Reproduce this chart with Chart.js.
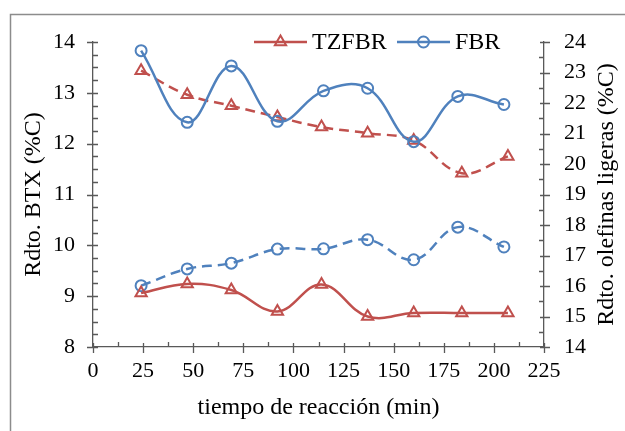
<!DOCTYPE html>
<html>
<head>
<meta charset="utf-8">
<script src="https://cdn.jsdelivr.net/npm/chart.js@4.4.1/dist/chart.umd.min.js"></script>
<style>
html,body{margin:0;padding:0;background:#fff;overflow:hidden}
#wrap{position:relative;width:625px;height:431px}
</style>
</head>
<body>
<div id="wrap"><canvas id="c" width="625" height="431"></canvas></div>
<script>
// ---- data ----
const timeFBR   = [24, 47, 69, 92, 115, 137, 160, 182, 205];
const timeTZFBR = [24, 47, 69, 92, 114, 137, 160, 184, 207];
const btxFBR    = [13.83, 12.42, 13.53, 12.44, 13.04, 13.09, 12.04, 12.93, 12.77];
const btxTZFBR  = [9.06, 9.24, 9.12, 8.70, 9.23, 8.60, 8.67, 8.67, 8.67];
const olefFBR   = [16.01, 16.56, 16.75, 17.21, 17.22, 17.52, 16.86, 17.93, 17.28];
const olefTZFBR = [23.06, 22.27, 21.91, 21.54, 21.21, 21.01, 20.77, 19.70, 20.25];
const seriesNames = ['TZFBR', 'FBR'];
const xTitle  = 'tiempo de reacción (min)';
const yTitle  = 'Rdto. BTX (%C)';
const y2Title = 'Rdto. olefinas ligeras (%C)';
const xRange  = [0, 225, 25];
const yRange  = [8, 14, 1];
const y2Range = [14, 24, 1];

// ---- styles ----
const RED = '#C0504D';
const BLUE = '#4F81BD';
const AXIS = '#595959';
const FONT = "'Liberation Serif', 'Times New Roman', serif";
const tickFont = {family: FONT, size: 22};
const titleFont = {family: FONT, size: 24};

const pairs = (xs, ys) => xs.map((x, i) => ({x: x, y: ys[i]}));

const borderPlugin = {
  id: 'outerBorder',
  beforeDraw(chart) {
    const ctx = chart.ctx;
    ctx.save();
    ctx.strokeStyle = '#8c8c8c';
    ctx.lineWidth = 1.5;
    ctx.strokeRect(10.5, 14.5, 1000, 1000);
    ctx.restore();
  }
};

const tickPlugin = {
  id: 'tickMarks',
  afterDraw(chart) {
    const ctx = chart.ctx;
    const sx = chart.scales.x, sy = chart.scales.y, sy2 = chart.scales.y2;
    const isInt = (v, s) => Math.abs(v / s - Math.round(v / s)) < 1e-6;
    ctx.save();
    ctx.strokeStyle = AXIS;
    ctx.lineWidth = 1.3;
    ctx.beginPath();
    for (let v = yRange[0]; v <= yRange[1] + 1e-9; v += 0.25) {
      const p = Math.round(sy.getPixelForValue(v)) + 0.5;
      const ax = sy.right;
      if (isInt(v, yRange[2])) { ctx.moveTo(ax - 6, p); ctx.lineTo(ax + 5, p); }
      else { ctx.moveTo(ax, p); ctx.lineTo(ax + 5, p); }
    }
    for (let v = y2Range[0]; v <= y2Range[1] + 1e-9; v += 0.5) {
      const p = Math.round(sy2.getPixelForValue(v)) + 0.5;
      const ax = sy2.left;
      if (isInt(v, y2Range[2])) { ctx.moveTo(ax - 4, p); ctx.lineTo(ax + 6, p); }
      else { ctx.moveTo(ax - 5, p); ctx.lineTo(ax, p); }
    }
    for (let v = xRange[0]; v <= xRange[1] + 1e-9; v += 12.5) {
      const p = Math.round(sx.getPixelForValue(v)) + 0.5;
      const ay = sx.top;
      if (isInt(v, xRange[2])) { ctx.moveTo(p, ay - 4); ctx.lineTo(p, ay + 6); }
      else { ctx.moveTo(p, ay - 5); ctx.lineTo(p, ay); }
    }
    ctx.stroke();
    ctx.restore();
  }
};

const extrasPlugin = {
  id: 'extras',
  afterDraw(chart) {
    const ctx = chart.ctx;
    const ca = chart.chartArea;
    ctx.save();
    ctx.fillStyle = '#000';
    ctx.font = "24px " + FONT;
    ctx.textAlign = 'center';
    ctx.textBaseline = 'middle';
    ctx.translate(607, (ca.top + ca.bottom) / 2);
    ctx.rotate(-Math.PI / 2);
    ctx.fillText(y2Title, 0, 0);
    ctx.restore();

    // legend: line + hollow marker + text
    const items = [
      {ds: chart.data.datasets[0], x0: 254, text: seriesNames[0]},
      {ds: chart.data.datasets[1], x0: 397, text: seriesNames[1]}
    ];
    const ly = 42;
    items.forEach(it => {
      const ds = it.ds;
      ctx.save();
      ctx.strokeStyle = ds.borderColor;
      ctx.lineWidth = ds.borderWidth;
      ctx.beginPath();
      ctx.moveTo(it.x0, ly);
      ctx.lineTo(it.x0 + 53, ly);
      ctx.stroke();
      ctx.restore();

      ctx.save();
      ctx.strokeStyle = ds.pointBorderColor;
      ctx.fillStyle = 'rgba(255,255,255,0)';
      ctx.lineWidth = ds.pointBorderWidth;
      Chart.helpers.drawPoint(ctx, {
        pointStyle: ds.pointStyle,
        radius: ds.pointRadius,
        borderWidth: ds.pointBorderWidth,
        rotation: 0
      }, it.x0 + 26.5, ly);
      ctx.restore();

      ctx.save();
      ctx.fillStyle = '#000';
      ctx.font = "24px " + FONT;
      ctx.textAlign = 'left';
      ctx.textBaseline = 'middle';
      ctx.fillText(it.text, it.x0 + 58, ly + 1);
      ctx.restore();
    });
  }
};

const common = {
  borderWidth: 2.5,
  tension: 0.4,
  pointBorderWidth: 2,
  pointBackgroundColor: 'rgba(0,0,0,0)',
  fill: false
};

new Chart(document.getElementById('c'), {
  type: 'line',
  data: {
    datasets: [
      Object.assign({}, common, {
        label: seriesNames[0], data: pairs(timeTZFBR, btxTZFBR), yAxisID: 'y',
        borderColor: RED, pointBorderColor: RED, pointStyle: 'triangle', pointRadius: 6.5
      }),
      Object.assign({}, common, {
        label: seriesNames[1], data: pairs(timeFBR, btxFBR), yAxisID: 'y',
        borderColor: BLUE, pointBorderColor: BLUE, pointStyle: 'circle', pointRadius: 5.5
      }),
      Object.assign({}, common, {
        label: seriesNames[0] + ' olefinas', data: pairs(timeTZFBR, olefTZFBR), yAxisID: 'y2',
        borderColor: RED, pointBorderColor: RED, pointStyle: 'triangle', pointRadius: 6.5,
        borderDash: [10, 6]
      }),
      Object.assign({}, common, {
        label: seriesNames[1] + ' olefinas', data: pairs(timeFBR, olefFBR), yAxisID: 'y2',
        borderColor: BLUE, pointBorderColor: BLUE, pointStyle: 'circle', pointRadius: 5.5,
        borderDash: [10, 6]
      })
    ]
  },
  options: {
    responsive: false,
    animation: false,
    devicePixelRatio: 1,
    layout: {padding: {top: 42, left: 0, right: 0, bottom: 0}},
    plugins: {legend: {display: false}, tooltip: {enabled: false}},
    scales: {
      x: {
        type: 'linear', position: 'bottom',
        min: xRange[0], max: xRange[1],
        ticks: {stepSize: xRange[2], padding: 11, font: tickFont, color: '#000', maxRotation: 0, autoSkip: false},
        grid: {display: false, drawTicks: false},
        border: {display: true, color: AXIS, width: 1.3},
        title: {display: true, text: xTitle, font: titleFont, color: '#000', padding: {top: 0, bottom: 9}},
        afterFit(s) { s.height = 84; }
      },
      y: {
        type: 'linear', position: 'left',
        min: yRange[0], max: yRange[1],
        ticks: {stepSize: yRange[2], padding: 18, font: tickFont, color: '#000'},
        grid: {display: false, drawTicks: false},
        border: {display: true, color: AXIS, width: 1.3},
        title: {display: true, text: yTitle, font: titleFont, color: '#000', padding: {top: 19, bottom: 0}},
        afterFit(s) { s.width = 93; }
      },
      y2: {
        type: 'linear', position: 'right',
        min: y2Range[0], max: y2Range[1],
        ticks: {stepSize: y2Range[2], padding: 20, font: tickFont, color: '#000'},
        grid: {display: false, drawTicks: false},
        border: {display: true, color: AXIS, width: 1.3},
        afterFit(s) { s.width = 81; }
      }
    }
  },
  plugins: [borderPlugin, tickPlugin, extrasPlugin]
});
</script>
</body>
</html>
